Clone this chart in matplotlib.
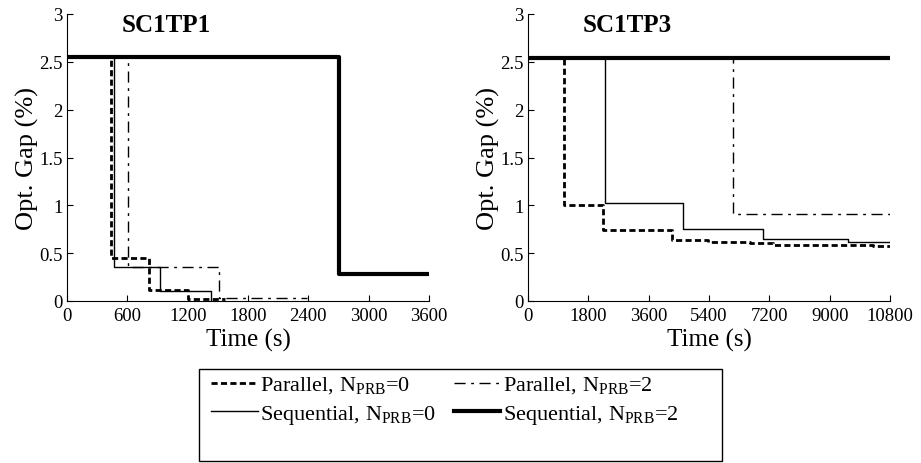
import matplotlib.pyplot as plt
from matplotlib.lines import Line2D
from matplotlib.patches import Rectangle

plt.rcParams["font.family"] = ["Liberation Serif", "DejaVu Serif"]
plt.rcParams["mathtext.fontset"] = "custom"
plt.rcParams["mathtext.rm"] = "Liberation Serif"

# SC1TP1 (time in s, gap in %)
tp1_par0_t = [0, 437, 819, 1200, 1571]
tp1_par0_y = [2.55, 0.45, 0.11, 0.02, 0.02]
tp1_seq0_t = [0, 470, 925, 1429]
tp1_seq0_y = [2.55, 0.36, 0.10, 0.0]
tp1_par2_t = [0, 610, 1512, 2390]
tp1_par2_y = [2.55, 0.36, 0.03, 0.03]
tp1_seq2_t = [0, 2700, 3600]
tp1_seq2_y = [2.55, 0.28, 0.28]

# SC1TP3
tp3_par0_t = [0, 1084, 2247, 4286, 5360, 6623, 7320, 10300, 10800]
tp3_par0_y = [2.55, 1.0, 0.74, 0.64, 0.62, 0.61, 0.59, 0.57, 0.57]
tp3_seq0_t = [0, 2307, 4634, 7020, 9536, 10800]
tp3_seq0_y = [2.55, 1.02, 0.75, 0.65, 0.62, 0.62]
tp3_par2_t = [0, 6126, 10800]
tp3_par2_y = [2.55, 0.91, 0.91]
tp3_seq2_t = [0, 10800]
tp3_seq2_y = [2.54, 2.54]

yticks = [0, 0.5, 1, 1.5, 2, 2.5, 3]
ytick_labels = ["0", "0.5", "1", "1.5", "2", "2.5", "3"]
tp1_xticks = [0, 600, 1200, 1800, 2400, 3000, 3600]
tp3_xticks = [0, 1800, 3600, 5400, 7200, 9000, 10800]

styles = {
    "par0": dict(color="black", lw=2.0, linestyle=(0, (2.2, 1.2))),
    "par2": dict(color="black", lw=1.0, linestyle=(0, (8, 4, 2, 4))),
    "seq0": dict(color="black", lw=1.0, linestyle="-"),
    "seq2": dict(color="black", lw=3.0, linestyle="-"),
}

fig = plt.figure(figsize=(9.21, 4.64), dpi=100)
ax1 = fig.add_axes([67 / 921, 162 / 464, 362 / 921, 287 / 464])
ax2 = fig.add_axes([528 / 921, 162 / 464, 362 / 921, 287 / 464])


def draw(ax, series, xmax, xticks, title):
    for key, (t, y) in series.items():
        ax.plot(t, y, drawstyle="steps-post", **styles[key])
    ax.set_xlim(0, xmax)
    ax.set_ylim(0, 3)
    ax.set_xticks(xticks)
    ax.set_yticks(yticks)
    ax.set_yticklabels(ytick_labels)
    ax.spines["top"].set_visible(False)
    ax.spines["right"].set_visible(False)
    ax.tick_params(direction="in", length=4, labelsize=13.5)
    ax.tick_params(axis="x", pad=4)
    ax.tick_params(axis="y", pad=3)
    ax.set_xlabel("Time (s)", fontsize=18, labelpad=3)
    ax.set_ylabel("Opt. Gap (%)", fontsize=19, labelpad=0)
    ax.text(0.15, 0.965, title, transform=ax.transAxes, fontsize=18,
            fontweight="bold", va="center", ha="left")


draw(ax1, {"seq2": (tp1_seq2_t, tp1_seq2_y), "par2": (tp1_par2_t, tp1_par2_y),
           "seq0": (tp1_seq0_t, tp1_seq0_y), "par0": (tp1_par0_t, tp1_par0_y)},
     3600, tp1_xticks, "SC1TP1")
draw(ax2, {"seq2": (tp3_seq2_t, tp3_seq2_y), "par2": (tp3_par2_t, tp3_par2_y),
           "seq0": (tp3_seq0_t, tp3_seq0_y), "par0": (tp3_par0_t, tp3_par0_y)},
     10800, tp3_xticks, "SC1TP3")

labels = [r"Parallel, N$_\mathregular{PRB}$=0", r"Sequential, N$_\mathregular{PRB}$=0",
          r"Parallel, N$_\mathregular{PRB}$=2", r"Sequential, N$_\mathregular{PRB}$=2"]
handles = [Line2D([], [], **styles[k]) for k in ["par0", "seq0", "par2", "seq2"]]
leg = fig.legend(handles, labels, ncol=2, loc="upper left",
                 bbox_to_anchor=(211 / 921, 88 / 464),
                 fontsize=16, frameon=False, handlelength=2.1, handletextpad=0.1,
                 borderaxespad=0, borderpad=0, columnspacing=0.8,
                 labelspacing=0.3)
fig.patches.append(Rectangle((199 / 921, 2 / 464), 523 / 921, 92 / 464,
                             transform=fig.transFigure, fill=False,
                             edgecolor="black", lw=1.0))

fig.savefig("out.png", dpi=100)
